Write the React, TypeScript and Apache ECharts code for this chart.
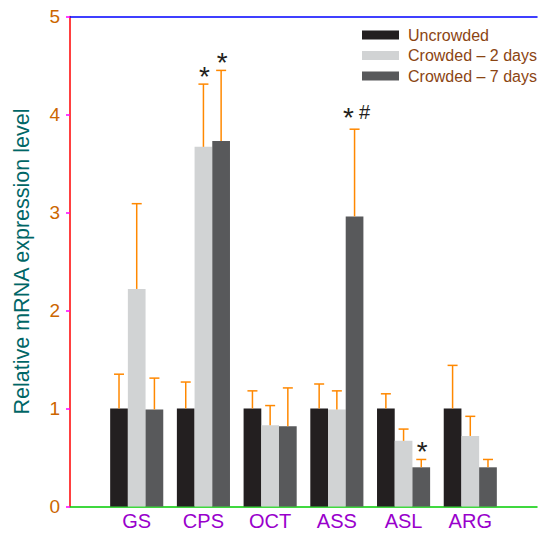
import React, { useEffect, useRef } from "react";
import * as echarts from "echarts";

const categories = ["GS", "CPS", "OCT", "ASS", "ASL", "ARG"];
const seriesNames = ["Uncrowded", "Crowded \u2013 2 days", "Crowded \u2013 7 days"];
const uncrowded = [1.0, 1.0, 1.0, 1.0, 1.0, 1.0];
const uncrowdedUpper = [1.35, 1.27, 1.18, 1.25, 1.15, 1.44];
const crowded2 = [2.22, 3.67, 0.83, 0.99, 0.67, 0.72];
const crowded2Upper = [3.09, 4.31, 1.03, 1.18, 0.79, 0.92];
const crowded7 = [0.99, 3.73, 0.82, 2.96, 0.4, 0.4];
const crowded7Upper = [1.31, 4.45, 1.21, 3.85, 0.48, 0.48];
const uncrowdedSig = ["", "", "", "", "", ""];
const crowded2Sig = ["", "*", "", "", "", ""];
const crowded7Sig = ["", "*", "", "*#", "*", ""];
const yMin = 0;
const yMax = 5;
const yStep = 1;

const COLORS = ["#231f20", "#d1d3d4", "#58595b"];
const INK = "#231f20";
const FONT = "'Liberation Sans', Arial, Helvetica, sans-serif";
const BAR_W = 17.7;
const X_MAX = categories.length + 1;

function barSeries(name: string, vals: number[], color: string) {
  return {
    type: "bar",
    name,
    data: vals.map((v, i) => [i + 1, v]),
    barWidth: BAR_W,
    barGap: "0%",
    itemStyle: { color },
    z: 2,
  };
}

function errSeries(idx: number, means: number[], uppers: number[], sigs: string[]) {
  return {
    type: "custom",
    name: "err" + idx,
    z: 5,
    silent: true,
    data: means.map((m, i) => [i + 1, m, uppers[i]]),
    renderItem: (params: any, api: any) => {
      const off = (idx - 1) * BAR_W;
      const top = api.coord([api.value(0), api.value(2)]);
      const base = api.coord([api.value(0), api.value(1)]);
      const x = top[0] + off;
      const ty = top[1];
      const children: any[] = [
        { type: "line", shape: { x1: x, y1: base[1], x2: x, y2: ty }, style: { stroke: "#ff8800", lineWidth: 1.5 } },
        { type: "line", shape: { x1: x - 5, y1: ty, x2: x + 5, y2: ty }, style: { stroke: "#ff8800", lineWidth: 1.5 } },
      ];
      const sig = sigs[params.dataIndex] || "";
      const hasHash = sig.indexOf("#") >= 0;
      if (sig.indexOf("*") >= 0) {
        const sx = hasHash ? x - 6 : x + 1;
        const sy = hasHash ? ty - 18 : ty - 14;
        children.push({
          type: "text",
          x: sx,
          y: sy + 6.5,
          style: { text: "*", fontSize: 28, fontFamily: FONT, fill: INK, align: "center", verticalAlign: "middle" },
        });
      }
      if (hasHash) {
        children.push({
          type: "text",
          x: x + 10,
          y: ty - 17,
          style: { text: "#", fontSize: 20, fontFamily: FONT, fill: INK, align: "center", verticalAlign: "middle" },
        });
      }
      return { type: "group", children };
    },
  };
}

export default function App() {
  const ref = useRef<HTMLDivElement>(null);
  useEffect(() => {
    if (!ref.current) return;
    const chart = echarts.init(ref.current, null, { renderer: "svg" });
    chart.setOption({
      animation: false,
      backgroundColor: "#ffffff",
      textStyle: { fontFamily: FONT },
      grid: { left: 70, right: 0, top: 16.5, bottom: 26.5, containLabel: false },
      legend: {
        data: seriesNames,
        orient: "vertical",
        left: 357,
        top: 22,
        itemWidth: 37,
        itemHeight: 9,
        itemGap: 4.5,
        icon: "rect",
        selectedMode: false,
        textStyle: { fontSize: 16, color: "#8b4513", fontFamily: FONT, padding: [0, 0, 0, 4] },
      },
      xAxis: [
        {
          type: "value",
          min: 0,
          max: X_MAX,
          interval: 1,
          axisLine: { show: true, onZero: false, lineStyle: { color: "#00cc00", width: 1.5 } },
          axisTick: { show: false },
          axisLabel: {
            fontSize: 20,
            color: "#9900cc",
            margin: 4,
            fontFamily: FONT,
            formatter: (v: number) => categories[Math.round(v) - 1] || "",
          },
          splitLine: { show: false },
        },
        {
          type: "value",
          min: 0,
          max: X_MAX,
          interval: 1,
          position: "top",
          axisLine: { show: true, onZero: false, lineStyle: { color: "#0000ff", width: 1.5 } },
          axisTick: { show: false },
          axisLabel: { show: false },
          splitLine: { show: false },
        },
      ],
      yAxis: {
        type: "value",
        min: yMin,
        max: yMax,
        interval: yStep,
        name: "Relative mRNA expression level",
        nameLocation: "middle",
        nameGap: 37,
        nameTextStyle: { fontSize: 21.5, color: "#006666", fontFamily: FONT },
        axisLine: { show: true, onZero: false, lineStyle: { color: "#ff0000", width: 1.5 } },
        axisTick: { show: true, inside: false, length: 4, lineStyle: { color: "#ff00ff", width: 1.5 } },
        axisLabel: { fontSize: 19, color: "#cc6600", margin: 10, fontFamily: FONT },
        splitLine: { show: false },
      },
      series: [
        barSeries(seriesNames[0], uncrowded, COLORS[0]),
        barSeries(seriesNames[1], crowded2, COLORS[1]),
        barSeries(seriesNames[2], crowded7, COLORS[2]),
        errSeries(0, uncrowded, uncrowdedUpper, uncrowdedSig),
        errSeries(1, crowded2, crowded2Upper, crowded2Sig),
        errSeries(2, crowded7, crowded7Upper, crowded7Sig),
      ],
    });
    return () => chart.dispose();
  }, []);
  return (
    <div
      ref={ref}
      style={{ position: "absolute", left: 0, top: 0, width: 540, height: 533, background: "#fff" }}
    />
  );
}
